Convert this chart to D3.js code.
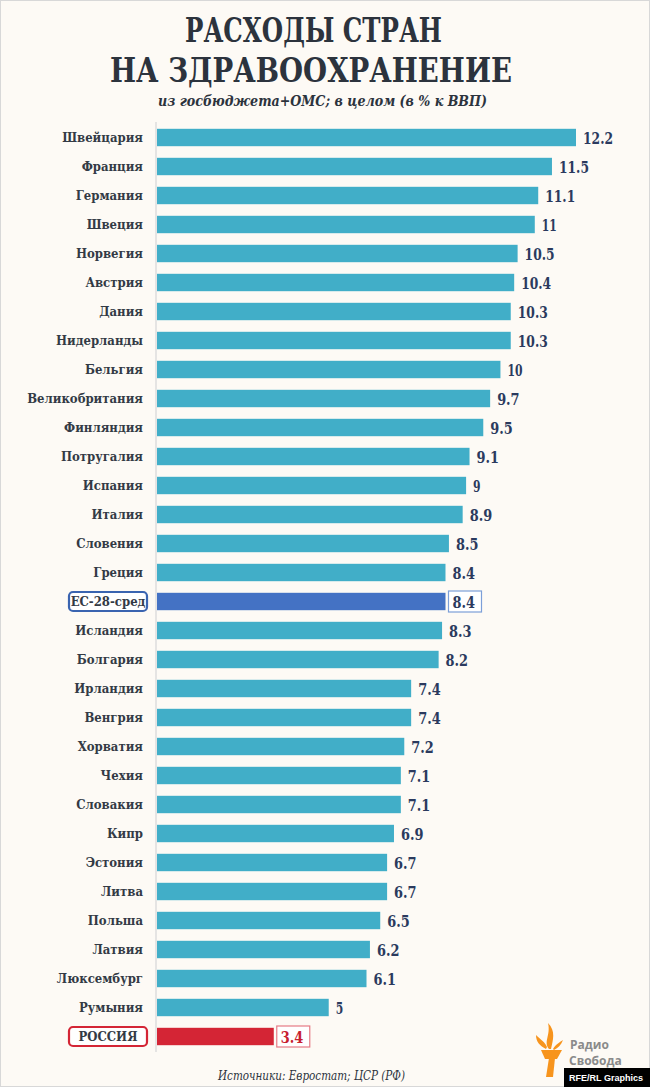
<!DOCTYPE html>
<html>
<head>
<meta charset="utf-8">
<script src="https://cdn.jsdelivr.net/npm/d3@7"></script>
<style>
  body { margin: 0; background: #fdfaf5; }
  svg { display: block; }
  .ttl { font-family: "DejaVu Serif Condensed", "DejaVu Serif", serif; font-stretch: condensed; font-weight: bold; fill: #2c333d; }
  .lbl { font-family: "DejaVu Serif Condensed", "DejaVu Serif", serif; font-stretch: condensed; font-weight: bold; font-size: 13px; fill: #333a45; }
  .val { font-family: "DejaVu Serif Condensed", "DejaVu Serif", serif; font-stretch: condensed; font-weight: bold; font-size: 16px; fill: #2b3a5e; }
</style>
</head>
<body>
<script>
const countries = ["Швейцария", "Франция", "Германия", "Швеция", "Норвегия", "Австрия", "Дания",
  "Нидерланды", "Бельгия", "Великобритания", "Финляндия", "Потругалия", "Испания", "Италия",
  "Словения", "Греция", "ЕС-28-сред", "Исландия", "Болгария", "Ирландия", "Венгрия", "Хорватия",
  "Чехия", "Словакия", "Кипр", "Эстония", "Литва", "Польша", "Латвия", "Люксембург", "Румыния", "РОССИЯ"];
const values = [12.2, 11.5, 11.1, 11, 10.5, 10.4, 10.3, 10.3, 10, 9.7, 9.5, 9.1, 9, 8.9,
  8.5, 8.4, 8.4, 8.3, 8.2, 7.4, 7.4, 7.2, 7.1, 7.1, 6.9, 6.7, 6.7, 6.5, 6.2, 6.1, 5, 3.4];
const euName = "ЕС-28-сред";
const ruName = "РОССИЯ";

const width = 650, height = 1087;
const data = countries.map((c, i) => ({name: c, value: values[i]}));

const svg = d3.select("body").append("svg")
  .attr("width", width)
  .attr("height", height);

svg.append("rect")
  .attr("x", 0.5).attr("y", 0.5)
  .attr("width", width - 1).attr("height", height - 1)
  .attr("fill", "#fdfaf5").attr("stroke", "#d8d8d8");

// titles
svg.append("text").attr("class", "ttl")
  .attr("x", 185).attr("y", 42)
  .attr("textLength", 257).attr("lengthAdjust", "spacingAndGlyphs")
  .style("font-size", "34px").text("РАСХОДЫ СТРАН");
svg.append("text").attr("class", "ttl")
  .attr("x", 110).attr("y", 82)
  .attr("textLength", 402).attr("lengthAdjust", "spacingAndGlyphs")
  .style("font-size", "34px").text("НА ЗДРАВООХРАНЕНИЕ");
svg.append("text").attr("class", "ttl")
  .attr("x", 158).attr("y", 106)
  .attr("textLength", 329).attr("lengthAdjust", "spacingAndGlyphs")
  .style("font-size", "15px").style("font-style", "italic")
  .text("из госбюджета+ОМС; в целом (в % к ВВП)");

const x = d3.scaleLinear().domain([0, 12.2]).range([157, 576]);
const y = d3.scaleBand().domain(countries).range([123, 1051])
  .paddingInner(0.4).paddingOuter(0.2);

// axis line
svg.append("line")
  .attr("x1", 156).attr("x2", 156)
  .attr("y1", 122).attr("y2", 1052)
  .attr("stroke", "#dcdcdc").attr("stroke-width", 1.5);

function barColor(d) {
  if (d.name === euName) return "#4472c4";
  if (d.name === ruName) return "#d42535";
  return "#41aec8";
}

svg.append("g").selectAll("rect")
  .data(data).join("rect")
  .attr("x", x(0))
  .attr("y", d => y(d.name))
  .attr("width", d => x(d.value) - x(0))
  .attr("height", y.bandwidth())
  .attr("fill", barColor);

// label boxes for highlighted rows
[[euName, "#3a64b0", "#7c9fd8"], [ruName, "#d42535", "#e67b85"]].forEach(([n, c1, c2]) => {
  const d = data.find(e => e.name === n);
  const cy = y(n) + y.bandwidth() / 2;
  svg.append("rect")
    .attr("x", 69).attr("y", cy - 9.5)
    .attr("width", 78).attr("height", 19)
    .attr("rx", 4)
    .attr("fill", "#fff").attr("stroke", c1).attr("stroke-width", 2.2);
  const w = d.value.toString().length * 8 + 9;
  svg.append("rect")
    .attr("x", x(d.value) + 3).attr("y", cy - 10.5)
    .attr("width", w).attr("height", 21)
    .attr("fill", "#fff").attr("stroke", c2).attr("stroke-width", 1.2);
});

svg.append("g").selectAll("text")
  .data(data).join("text")
  .attr("class", "lbl")
  .attr("x", d => (d.name === euName || d.name === ruName) ? 108 : 143)
  .attr("y", d => y(d.name) + y.bandwidth() / 2)
  .attr("dy", "0.36em")
  .attr("text-anchor", d => (d.name === euName || d.name === ruName) ? "middle" : "end")
  .text(d => d.name);

svg.append("g").selectAll("text")
  .data(data).join("text")
  .attr("class", "val")
  .attr("x", d => x(d.value) + 7)
  .attr("y", d => y(d.name) + y.bandwidth() / 2)
  .attr("dy", "0.38em")
  .attr("textLength", d => d.value.toString().length * 7.5)
  .attr("lengthAdjust", "spacingAndGlyphs")
  .style("fill", d => d.name === ruName ? "#c8202f" : null)
  .text(d => d.value);

// source
svg.append("text").attr("class", "ttl")
  .attr("x", 218).attr("y", 1080)
  .attr("textLength", 187).attr("lengthAdjust", "spacingAndGlyphs")
  .style("font-size", "12px").style("font-style", "italic").style("font-weight", "normal")
  .text("Источники: Евростат; ЦСР (РФ)");

// logo
const logo = svg.append("g").attr("fill", "#f7941d");
logo.append("path").attr("d", "M549,1058 L555,1058 L553,1077 L546,1077 Z");
logo.append("path").attr("d", "M541,1050 L562,1050 L557,1059 L545,1059 Z");
logo.append("path").attr("d", "M549,1049 C543,1042 551,1035 548,1023 C556,1031 553,1040 551,1049 Z");
logo.append("path").attr("d", "M546,1049 C540,1046 536,1042 536,1035 C541,1040 545,1042 547,1047 Z");
logo.append("path").attr("d", "M553,1049 C556,1044 560,1042 563,1040 C561,1045 558,1048 554,1050 Z");
svg.append("text").attr("x", 570).attr("y", 1049)
  .style("font-family", "'Open Sans', sans-serif").style("font-weight", "bold")
  .style("font-size", "12px").attr("fill", "#8a8a8a").text("Радио");
svg.append("text").attr("x", 569).attr("y", 1065)
  .style("font-family", "'Open Sans', sans-serif").style("font-weight", "bold")
  .style("font-size", "12px").attr("fill", "#8a8a8a").text("Свобода");

svg.append("rect").attr("x", 564).attr("y", 1068)
  .attr("width", 86).attr("height", 19).attr("fill", "#000");
svg.append("text").attr("x", 569).attr("y", 1080.5)
  .attr("textLength", 74).attr("lengthAdjust", "spacingAndGlyphs")
  .style("font-family", "'Liberation Sans', Arial, sans-serif").style("font-weight", "bold")
  .style("font-size", "9.5px").attr("fill", "#fff").text("RFE/RL Graphics");
</script>
</body>
</html>
